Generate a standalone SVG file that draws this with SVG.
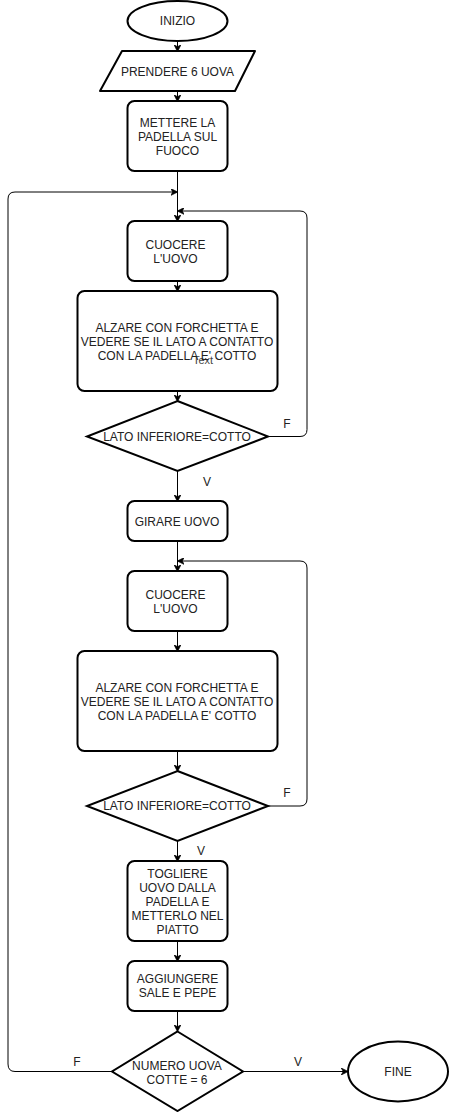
<svg xmlns="http://www.w3.org/2000/svg" width="449" height="1112" viewBox="0 0 449 1112">
<style>
.n{fill:#fff;stroke:#000;stroke-width:2}
.t{font-family:"Liberation Sans",Arial,sans-serif;font-size:12px;fill:#222;text-anchor:middle}
.c{fill:none;stroke:#000;stroke-width:1}
.s{font-size:11px;fill:#444}
</style>
<defs>
<marker id="a" viewBox="0 0 10 10" refX="9" refY="5" markerWidth="7" markerHeight="7" orient="auto" markerUnits="userSpaceOnUse">
<path d="M0,0 L10,5 L0,10 L3,5 Z" fill="#000" stroke="#000" stroke-width="1"/>
</marker>
</defs>
<rect width="449" height="1112" fill="#fff"/>
<g id="connectors">
<line class="c" x1="177.5" y1="41" x2="177.5" y2="51" marker-end="url(#a)"/>
<line class="c" x1="177.5" y1="91" x2="177.5" y2="101" marker-end="url(#a)"/>
<line class="c" x1="177.5" y1="171" x2="177.5" y2="221" marker-end="url(#a)"/>
<path class="c" d="M111.5,1071.5 H15 Q8,1071.5 8,1064 V199 Q8,192 15,192 H177" marker-end="url(#a)"/>
<line class="c" x1="177.5" y1="281" x2="177.5" y2="291" marker-end="url(#a)"/>
<line class="c" x1="177.5" y1="391" x2="177.5" y2="401" marker-end="url(#a)"/>
<path class="c" d="M268,436.5 H300 Q307,436.5 307,429.5 V218 Q307,211 300,211 H178" marker-end="url(#a)"/>
<line class="c" x1="177.5" y1="471" x2="177.5" y2="501" marker-end="url(#a)"/>
<line class="c" x1="177.5" y1="541" x2="177.5" y2="571" marker-end="url(#a)"/>
<line class="c" x1="177.5" y1="631" x2="177.5" y2="651" marker-end="url(#a)"/>
<line class="c" x1="177.5" y1="751" x2="177.5" y2="771" marker-end="url(#a)"/>
<path class="c" d="M268,806 H300 Q307,806 307,799 V568 Q307,561 300,561 H178" marker-end="url(#a)"/>
<line class="c" x1="177.5" y1="841" x2="177.5" y2="861" marker-end="url(#a)"/>
<line class="c" x1="177.5" y1="941" x2="177.5" y2="961" marker-end="url(#a)"/>
<line class="c" x1="177.5" y1="1011" x2="177.5" y2="1031" marker-end="url(#a)"/>
<line class="c" x1="243" y1="1071.5" x2="347.5" y2="1071.5" marker-end="url(#a)"/>
<text class="t" x="287" y="428">F</text>
<text class="t" x="207" y="486">V</text>
<text class="t" x="287" y="797">F</text>
<text class="t" x="201" y="855">V</text>
<text class="t" x="77" y="1066">F</text>
<text class="t" x="298" y="1066">V</text>
</g>
<g id="inizio">
<ellipse class="n" cx="177.5" cy="21" rx="50" ry="20"/>
<text class="t" x="177.5" y="25">INIZIO</text>
</g>
<g id="prendere">
<path class="n" d="M122,51 H255 L235,91 H100 Z" stroke-linejoin="round"/>
<text class="t" x="177.5" y="76">PRENDERE 6 UOVA</text>
</g>
<g id="mettere">
<rect class="n" x="127.5" y="101" width="100" height="70" rx="7"/>
<text class="t" x="177.5" y="127">METTERE LA</text>
<text class="t" x="177.5" y="141">PADELLA SUL</text>
<text class="t" x="177.5" y="155">FUOCO</text>
</g>
<g id="cuocere1">
<rect class="n" x="127.5" y="221" width="100" height="60" rx="7"/>
<text class="t" x="175.5" y="248.5">CUOCERE</text>
<text class="t" x="175.5" y="263">L'UOVO</text>
</g>
<g id="alzare1">
<rect class="n" x="77.5" y="291" width="200" height="100" rx="7"/>
<text class="t s" x="203" y="364">Text</text>
<text class="t" x="177" y="332">ALZARE CON FORCHETTA E</text>
<text class="t" x="177" y="346">VEDERE SE IL LATO A CONTATTO</text>
<text class="t" x="177" y="360">CON LA PADELLA E' COTTO</text>
</g>
<g id="lato1">
<path class="n" d="M177.5,401 L268,436.5 L177.5,471 L87,436.5 Z"/>
<text class="t" x="177" y="441">LATO INFERIORE=COTTO</text>
</g>
<g id="girare">
<rect class="n" x="127.5" y="501" width="100" height="40" rx="7"/>
<text class="t" x="177" y="526">GIRARE UOVO</text>
</g>
<g id="cuocere2">
<rect class="n" x="127.5" y="571" width="100" height="60" rx="7"/>
<text class="t" x="175.5" y="598.5">CUOCERE</text>
<text class="t" x="175.5" y="613">L'UOVO</text>
</g>
<g id="alzare2">
<rect class="n" x="77.5" y="651" width="200" height="100" rx="7"/>
<text class="t" x="177" y="692">ALZARE CON FORCHETTA E</text>
<text class="t" x="177" y="706">VEDERE SE IL LATO A CONTATTO</text>
<text class="t" x="177" y="720">CON LA PADELLA E' COTTO</text>
</g>
<g id="lato2">
<path class="n" d="M177.5,771 L268,806 L177.5,841 L87,806 Z"/>
<text class="t" x="177" y="810">LATO INFERIORE=COTTO</text>
</g>
<g id="togliere">
<rect class="n" x="127.5" y="861" width="100" height="80" rx="7"/>
<text class="t" x="177.5" y="878">TOGLIERE</text>
<text class="t" x="177.5" y="892">UOVO DALLA</text>
<text class="t" x="177.5" y="906">PADELLA E</text>
<text class="t" x="177.5" y="920">METTERLO NEL</text>
<text class="t" x="177.5" y="934">PIATTO</text>
</g>
<g id="aggiungere">
<rect class="n" x="127.5" y="961" width="100" height="50" rx="7"/>
<text class="t" x="177.5" y="982.5">AGGIUNGERE</text>
<text class="t" x="177.5" y="997">SALE E PEPE</text>
</g>
<g id="numero">
<path class="n" d="M177.5,1031.5 L243,1071.5 L177.5,1111 L112,1071.5 Z"/>
<text class="t" x="177" y="1069.5">NUMERO UOVA</text>
<text class="t" x="177" y="1084">COTTE = 6</text>
</g>
<g id="fine">
<ellipse class="n" cx="398" cy="1071.5" rx="50" ry="30"/>
<text class="t" x="398" y="1076">FINE</text>
</g>
</svg>
